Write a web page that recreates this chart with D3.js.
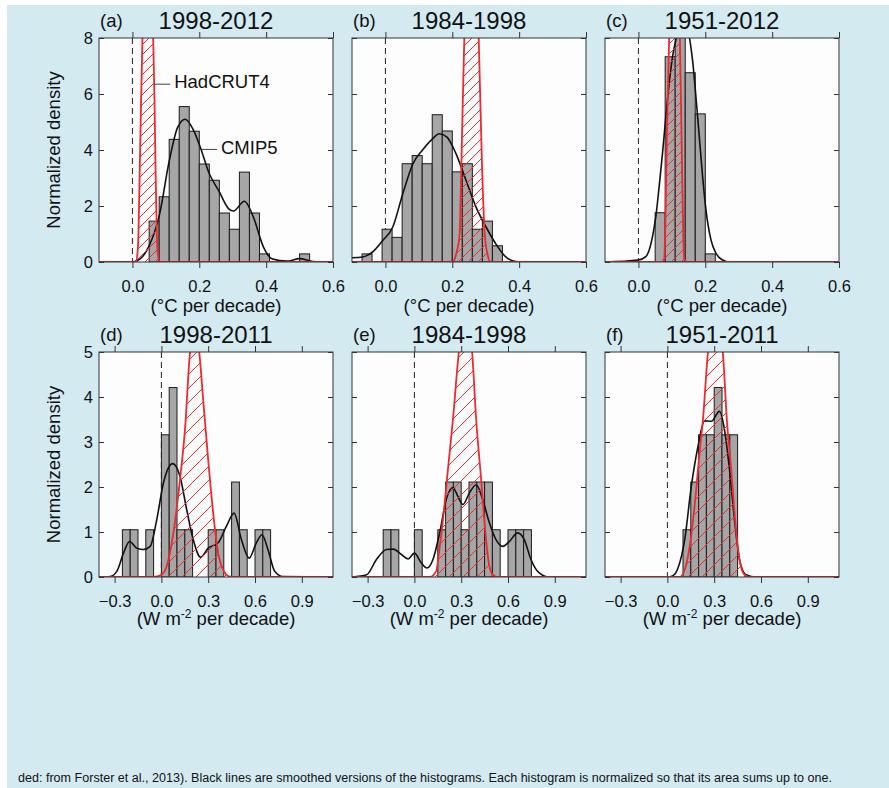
<!DOCTYPE html>
<html>
<head>
<meta charset="utf-8">
<script src="https://cdn.jsdelivr.net/npm/d3@7"></script>
<style>
  body { margin: 0; background: #fff; }
  text { font-family: "Liberation Sans", Arial, Helvetica, sans-serif; fill: #111; }
</style>
</head>
<body>
<div id="chart"></div>
<script>
// ---- temperature trends (top row), bins 0.03 wide
const aBinLeft = [0.05, 0.08, 0.11, 0.14, 0.17, 0.20, 0.23, 0.26, 0.29, 0.32, 0.35, 0.38, 0.41, 0.44, 0.47, 0.50]
const aDensity = [1.46, 2.33, 4.38, 5.55, 4.67, 3.50, 2.92, 1.75, 1.17, 3.21, 1.75, 0.29, 0, 0, 0, 0.29]
const aSmoothX = [-0.1, 0.0, 0.024, 0.051, 0.081, 0.11, 0.135, 0.158, 0.183, 0.203, 0.23, 0.258, 0.288, 0.302, 0.335, 0.362, 0.392, 0.417, 0.462, 0.5, 0.54, 0.6]
const aSmoothY = [0, 0, 0.12, 0.6, 1.7, 3.6, 4.8, 5.1, 4.7, 4.1, 3.15, 2.55, 1.9, 1.82, 2.17, 1.6, 0.53, 0.12, 0.03, 0.12, 0.02, 0]
const aObsX = [-0.1, 0.01, 0.015, 0.018, 0.022, 0.026, 0.03, 0.046, 0.062, 0.066, 0.069, 0.073, 0.076, 0.081, 0.6]
const aObsY = [0, 0, 0.3, 1, 3.4, 5.8, 8, 12, 8, 5.8, 3.4, 1, 0.3, 0, 0]

const bBinLeft = [-0.07, -0.04, -0.01, 0.02, 0.05, 0.08, 0.11, 0.14, 0.17, 0.20, 0.23, 0.26, 0.29, 0.32]
const bDensity = [0.29, 0, 1.17, 0.88, 3.51, 3.80, 3.51, 5.26, 4.68, 3.22, 3.51, 1.17, 1.46, 0.58]
const bSmoothX = [-0.1, -0.068, -0.038, -0.008, 0.022, 0.052, 0.082, 0.111, 0.141, 0.161, 0.184, 0.211, 0.241, 0.271, 0.301, 0.33, 0.36, 0.39, 0.423, 0.6]
const bSmoothY = [0.15, 0.18, 0.36, 0.77, 1.25, 2.44, 3.5, 4.0, 4.4, 4.58, 4.46, 3.87, 2.92, 1.96, 1.25, 0.65, 0.18, 0.02, 0, 0]
const bObsX = [-0.1, 0.2, 0.212, 0.222, 0.227, 0.236, 0.258, 0.279, 0.289, 0.297, 0.305, 0.315, 0.6]
const bObsY = [0, 0, 0.3, 1, 3.4, 8, 12, 8, 3.4, 1, 0.3, 0, 0]

const cBinLeft = [0.05, 0.08, 0.11, 0.14, 0.17, 0.20]
const cDensity = [1.76, 7.33, 9.6, 6.76, 5.29, 0.29]
const cSmoothX = [-0.1, 0.0, 0.022, 0.042, 0.052, 0.062, 0.072, 0.082, 0.092, 0.102, 0.112, 0.135, 0.162, 0.172, 0.182, 0.192, 0.202, 0.217, 0.232, 0.252, 0.272, 0.6]
const cSmoothY = [0, 0.07, 0.19, 0.9, 1.62, 2.69, 3.88, 5.19, 6.38, 7.33, 7.93, 8.6, 7.2, 5.9, 4.48, 3.05, 1.86, 0.79, 0.31, 0.07, 0, 0]
const cObsX = [-0.1, 0.07, 0.077, 0.08, 0.085, 0.092, 0.108, 0.124, 0.129, 0.134, 0.137, 0.145, 0.6]
const cObsY = [0, 0, 0.1, 1, 4.5, 8, 14, 8, 4.5, 1, 0.1, 0, 0]

// ---- forcing trends (bottom row), bins 0.05 wide
const dBinLeft = [-0.25, -0.20, -0.10, 0.00, 0.05, 0.10, 0.15, 0.30, 0.35, 0.45, 0.50, 0.60, 0.65]
const dDensity = [1.05, 1.05, 1.05, 3.16, 4.21, 1.05, 1.05, 1.05, 1.05, 2.11, 1.05, 1.05, 1.05]
const dSmoothX = [-0.4, -0.328, -0.285, -0.243, -0.204, -0.157, -0.115, -0.072, -0.03, 0.013, 0.072, 0.119, 0.162, 0.204, 0.251, 0.3, 0.364, 0.417, 0.466, 0.513, 0.562, 0.609, 0.645, 0.683, 0.726, 0.779, 1.1]
const dSmoothY = [0, 0.01, 0.13, 0.53, 0.79, 0.64, 0.61, 0.68, 1.27, 2.09, 2.52, 2.24, 1.5, 0.83, 0.44, 0.64, 0.76, 1.13, 1.42, 0.83, 0.42, 0.76, 0.94, 0.61, 0.13, 0.01, 0]
const dObsX = [-0.4, -0.05, 0.0, 0.034, 0.077, 0.119, 0.151, 0.183, 0.213, 0.243, 0.268, 0.3, 0.332, 0.364, 0.396, 0.44, 0.5, 1.1]
const dObsY = [0, 0, 0.05, 0.24, 0.98, 2.16, 3.27, 4.98, 5.6, 4.98, 3.93, 2.6, 1.42, 0.53, 0.16, 0.01, 0, 0]

const eBinLeft = [-0.20, -0.15, 0.00, 0.15, 0.20, 0.25, 0.30, 0.35, 0.40, 0.45, 0.50, 0.60, 0.65, 0.70]
const eDensity = [1.05, 1.05, 1.05, 1.05, 2.11, 2.11, 1.05, 2.11, 2.11, 2.11, 1.05, 1.05, 1.05, 1.05]
const eSmoothX = [-0.4, -0.306, -0.243, -0.179, -0.136, -0.083, -0.04, 0.0, 0.045, 0.081, 0.119, 0.162, 0.204, 0.247, 0.279, 0.311, 0.353, 0.396, 0.438, 0.481, 0.523, 0.566, 0.609, 0.662, 0.704, 0.747, 0.8, 0.864, 1.1]
const eSmoothY = [0, 0.05, 0.39, 0.61, 0.62, 0.5, 0.4, 0.53, 0.31, 0.2, 0.39, 0.98, 1.72, 1.99, 1.79, 1.61, 1.87, 2.05, 1.72, 1.2, 0.83, 0.68, 0.79, 0.98, 0.83, 0.39, 0.09, 0, 0]
const eObsX = [-0.4, 0.1, 0.14, 0.157, 0.183, 0.215, 0.247, 0.285, 0.327, 0.37, 0.396, 0.428, 0.455, 0.477, 0.502, 0.53, 1.1]
const eObsY = [0, 0, 0.13, 0.53, 1.27, 2.39, 3.5, 5.0, 5.9, 5.0, 3.5, 2.16, 0.98, 0.31, 0.05, 0, 0]

const fBinLeft = [0.10, 0.15, 0.20, 0.25, 0.30, 0.35, 0.40]
const fDensity = [1.05, 2.11, 3.16, 3.16, 4.21, 3.16, 3.16]
const fSmoothX = [-0.4, 0.0, 0.036, 0.068, 0.111, 0.153, 0.196, 0.238, 0.281, 0.334, 0.366, 0.398, 0.43, 0.462, 0.504, 0.568, 1.1]
const fSmoothY = [0, 0, 0.03, 0.2, 0.83, 2.01, 2.9, 3.47, 3.46, 3.68, 3.27, 2.39, 1.27, 0.39, 0.05, 0, 0]
const fObsX = [-0.4, 0.079, 0.111, 0.143, 0.174, 0.206, 0.228, 0.26, 0.307, 0.355, 0.381, 0.409, 0.434, 0.462, 0.494, 0.526, 1.1]
const fObsY = [0, 0, 0.16, 0.68, 1.57, 2.76, 3.5, 5.0, 5.9, 5.0, 3.5, 2.39, 1.27, 0.39, 0.05, 0, 0]

const topXTicks = [0.0, 0.2, 0.4, 0.6]
const topYTicks = [0, 2, 4, 6, 8]
const botXTicks = [-0.3, 0.0, 0.3, 0.6, 0.9]
const botYTicks = [0, 1, 2, 3, 4, 5]

const width = 889, height = 788
const red = '#ec2a30'

const svg = d3.select('#chart').append('svg').attr('width', width).attr('height', height)
svg.append('rect').attr('x', 7).attr('y', 5).attr('width', width - 7).attr('height', height - 5).attr('fill', '#d4eaf1')

const defs = svg.append('defs')

function layoutPanel(p) {
    const g = svg.append('g').attr('transform', `translate(${p.left}, ${p.top})`)
    const w = p.w, h = p.h
    const x = d3.scaleLinear().domain(p.xDomain).range([0, w])
    const y = d3.scaleLinear().domain(p.yDomain).range([h, 0])

    defs.append('clipPath').attr('id', 'clip-' + p.tag).append('rect').attr('width', w).attr('height', h)

    g.append('rect').attr('width', w).attr('height', h).attr('fill', '#fdfdfd')
    const inner = g.append('g').attr('clip-path', `url(#clip-${p.tag})`)

    inner.append('line')
        .attr('x1', x(0)).attr('x2', x(0)).attr('y1', 0).attr('y2', h)
        .attr('stroke', '#222').attr('stroke-dasharray', '6,4').attr('stroke-width', 1)

    const bins = p.binLeft.map((b, i) => ({ x0: b, d: p.density[i] })).filter(d => d.d > 0)
    inner.selectAll('.bar')
        .data(bins)
        .enter().append('rect')
        .attr('class', 'bar')
        .attr('x', d => x(d.x0))
        .attr('y', d => y(d.d))
        .attr('width', d => x(d.x0 + p.binWidth) - x(d.x0))
        .attr('height', d => h - y(d.d))
        .attr('fill', '#a6a6a6')
        .attr('stroke', '#1a1a1a')
        .attr('stroke-width', 1)

    const line = d3.line().x(d => x(d[0])).y(d => y(d[1])).curve(d3.curveMonotoneX)
    inner.append('path')
        .attr('d', line(p.smoothX.map((v, i) => [v, p.smoothY[i]])))
        .attr('fill', 'none').attr('stroke', '#111').attr('stroke-width', 1.6)

    // observed distribution: hatched area + outline
    const obs = p.obsX.map((v, i) => [v, p.obsY[i]])
    defs.append('clipPath').attr('id', 'obs-' + p.tag).append('path').attr('d', line(obs) + 'Z')
    const hatch = inner.append('g').attr('clip-path', `url(#obs-${p.tag})`)
    hatch.selectAll('line')
        .data(d3.range(-h, w + p.hatchStep, p.hatchStep))
        .enter().append('line')
        .attr('x1', d => d).attr('y1', h)
        .attr('x2', d => d + h).attr('y2', 0)
        .attr('stroke', '#f02c33').attr('stroke-width', 1)
    inner.append('path')
        .attr('d', line(obs))
        .attr('fill', 'none').attr('stroke', red).attr('stroke-width', 1.8)

    // axes
    g.append('g').attr('transform', `translate(0, ${h})`)
        .call(d3.axisBottom(x).tickValues(p.xTicks).tickSize(6).tickPadding(12).tickFormat(d3.format('.1f')))
        .call(a => a.select('.domain').remove())
        .call(a => a.selectAll('text').attr('font-size', 16.5).attr('font-family', null).attr('fill', '#111'))
        .call(a => a.selectAll('line').attr('stroke', '#333'))
    g.append('g')
        .call(d3.axisTop(x).tickValues(p.xTicks).tickSize(6).tickFormat(''))
        .call(a => a.select('.domain').remove())
        .call(a => a.selectAll('line').attr('stroke', '#333'))
    g.append('g')
        .call(d3.axisLeft(y).tickValues(p.yTicks).tickSize(-5).tickPadding(6).tickFormat(d3.format('d')))
        .call(a => a.select('.domain').remove())
        .call(a => a.selectAll('text').attr('font-size', 16.5).attr('font-family', null).attr('fill', '#111')
            .style('display', p.yLabels ? null : 'none'))
        .call(a => a.selectAll('line').attr('stroke', '#333'))
    g.append('g').attr('transform', `translate(${w}, 0)`)
        .call(d3.axisRight(y).tickValues(p.yTicks).tickSize(-5).tickFormat(''))
        .call(a => a.select('.domain').remove())
        .call(a => a.selectAll('line').attr('stroke', '#333'))

    g.append('rect').attr('width', w).attr('height', h)
        .attr('fill', 'none').attr('stroke', '#333').attr('stroke-width', 1)

    g.append('text').text(p.letter).attr('x', 1).attr('y', -11).attr('font-size', 18.5)
    g.append('text').text(p.title).attr('x', w / 2).attr('y', -9)
        .attr('text-anchor', 'middle').attr('font-size', 24)

    const xt = g.append('text').attr('x', w / 2).attr('y', h + p.xTitleDy)
        .attr('text-anchor', 'middle').attr('font-size', 18.5)
    if (p.unit === 'T') {
        xt.text('(°C per decade)')
    } else {
        xt.append('tspan').text('(W m')
        xt.append('tspan').text('-2').attr('font-size', 12).attr('baseline-shift', '7')
        xt.append('tspan').text(' per decade)')
    }

    if (p.yLabels) {
        g.append('text').text('Normalized density')
            .attr('transform', `translate(${-39}, ${h / 2}) rotate(-90)`)
            .attr('text-anchor', 'middle').attr('font-size', 18.5)
    }

    if (p.notes) {
        p.notes.forEach(n => {
            g.append('line')
                .attr('x1', x(n.lx0)).attr('x2', x(n.lx1)).attr('y1', y(n.ly)).attr('y2', y(n.ly))
                .attr('stroke', '#444').attr('stroke-width', 1)
            g.append('text').text(n.label).attr('x', x(n.tx)).attr('y', y(n.ty)).attr('font-size', 18.5)
        })
    }
}

const lefts = [99, 352, 605]
const pw = 234
const topCommon = { top: 38, w: pw, h: 224, xDomain: [-0.1, 0.6], yDomain: [0, 8], xTicks: topXTicks, yTicks: topYTicks, binWidth: 0.03, hatchStep: 10, unit: 'T', xTitleDy: 50 }
const botCommon = { top: 352, w: pw, h: 225, xDomain: [-0.4, 1.1], yDomain: [0, 5], xTicks: botXTicks, yTicks: botYTicks, binWidth: 0.05, hatchStep: 14, unit: 'F', xTitleDy: 48 }

layoutPanel({ ...topCommon, tag: 'a', left: lefts[0], letter: '(a)', title: '1998-2012', yLabels: true,
    binLeft: aBinLeft, density: aDensity, smoothX: aSmoothX, smoothY: aSmoothY, obsX: aObsX, obsY: aObsY,
    notes: [{ label: 'HadCRUT4', lx0: 0.064, lx1: 0.113, ly: 6.35, tx: 0.125, ty: 6.2 },
            { label: 'CMIP5', lx0: 0.208, lx1: 0.253, ly: 4.02, tx: 0.265, ty: 3.87 }] })
layoutPanel({ ...topCommon, tag: 'b', left: lefts[1], letter: '(b)', title: '1984-1998', yLabels: false,
    binLeft: bBinLeft, density: bDensity, smoothX: bSmoothX, smoothY: bSmoothY, obsX: bObsX, obsY: bObsY })
layoutPanel({ ...topCommon, tag: 'c', left: lefts[2], letter: '(c)', title: '1951-2012', yLabels: false,
    binLeft: cBinLeft, density: cDensity, smoothX: cSmoothX, smoothY: cSmoothY, obsX: cObsX, obsY: cObsY })
layoutPanel({ ...botCommon, tag: 'd', left: lefts[0], letter: '(d)', title: '1998-2011', yLabels: true,
    binLeft: dBinLeft, density: dDensity, smoothX: dSmoothX, smoothY: dSmoothY, obsX: dObsX, obsY: dObsY })
layoutPanel({ ...botCommon, tag: 'e', left: lefts[1], letter: '(e)', title: '1984-1998', yLabels: false,
    binLeft: eBinLeft, density: eDensity, smoothX: eSmoothX, smoothY: eSmoothY, obsX: eObsX, obsY: eObsY })
layoutPanel({ ...botCommon, tag: 'f', left: lefts[2], letter: '(f)', title: '1951-2011', yLabels: false,
    binLeft: fBinLeft, density: fDensity, smoothX: fSmoothX, smoothY: fSmoothY, obsX: fObsX, obsY: fObsY })

svg.append('text')
    .text('ded: from Forster et al., 2013). Black lines are smoothed versions of the histograms. Each histogram is normalized so that its area sums up to one.')
    .attr('x', 18).attr('y', 782)
    .attr('font-size', 12.5)
    .attr('font-family', '"Liberation Sans Narrow", "DejaVu Sans Condensed", sans-serif')
    .attr('textLength', 814).attr('lengthAdjust', 'spacingAndGlyphs')
    .attr('fill', '#231f20')
</script>
</body>
</html>
